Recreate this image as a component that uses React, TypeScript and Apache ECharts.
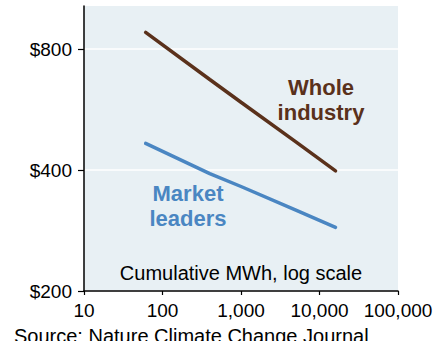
import React, { useEffect, useRef } from "react";
import * as echarts from "echarts";

const xValues = [61, 400, 1000, 5000, 16000];
const wholeIndustry = [880, 672, 590, 470, 398];
const marketLeaders = [466, 392, 364, 318, 288];
const yTicks = [200, 400, 800];
const xTicks = [10, 100, 1000, 10000, 100000];

const FONT = '"Liberation Sans", Arial, sans-serif';
const BROWN = "#5a311b";
const BLUE = "#4a86c2";

export default function App() {
  const ref = useRef<HTMLDivElement>(null);
  useEffect(() => {
    if (!ref.current) return;
    const chart = echarts.init(ref.current, null, { renderer: "svg" });
    const toH = (v: number) => v / 100;
    chart.setOption({
      animation: false,
      backgroundColor: "#ffffff",
      grid: {
        left: 84,
        right: 50,
        top: 6,
        bottom: 50,
        show: true,
        backgroundColor: "#e8f0f4",
        borderWidth: 0,
      },
      xAxis: {
        type: "log",
        logBase: 10,
        min: xTicks[0],
        max: xTicks[xTicks.length - 1],
        axisLine: { show: true, lineStyle: { color: "#000", width: 1.5 } },
        axisTick: { show: true, length: 4, lineStyle: { color: "#000", width: 1.2 } },
        splitLine: { show: false },
        minorTick: { show: false },
        axisLabel: {
          color: "#000",
          fontSize: 19,
          fontFamily: FONT,
          margin: 10,
          formatter: (v: number) => Math.round(v).toLocaleString("en-US"),
        },
      },
      yAxis: {
        type: "log",
        logBase: 2,
        min: toH(yTicks[0]),
        max: 10.24,
        axisLine: { show: true, lineStyle: { color: "#000", width: 1.5 } },
        axisTick: {
          show: true,
          length: 6,
          customValues: yTicks.map(toH),
          lineStyle: { color: "#000", width: 1.2 },
        },
        splitLine: { show: true, lineStyle: { color: "#ffffff", width: 1.5 } },
        axisLabel: {
          color: "#000",
          fontSize: 19,
          fontFamily: FONT,
          margin: 12,
          customValues: yTicks.map(toH),
          formatter: (v: number) => "$" + Math.round(v * 100),
        },
      },
      series: [
        {
          type: "line",
          name: "Whole industry",
          data: xValues.map((x, i) => [x, toH(wholeIndustry[i])]),
          showSymbol: false,
          lineStyle: { color: BROWN, width: 3.5, cap: "round" },
          itemStyle: { color: BROWN },
        },
        {
          type: "line",
          name: "Market leaders",
          data: xValues.map((x, i) => [x, toH(marketLeaders[i])]),
          showSymbol: false,
          lineStyle: { color: BLUE, width: 3.5, cap: "round" },
          itemStyle: { color: BLUE },
        },
      ],
      graphic: [
        {
          type: "text",
          x: 321,
          y: 100,
          style: {
            text: "Whole\nindustry",
            fill: BROWN,
            font: `bold 22px ${FONT}`,
            align: "center",
            verticalAlign: "middle",
            lineHeight: 25,
          },
        },
        {
          type: "text",
          x: 188,
          y: 206,
          style: {
            text: "Market\nleaders",
            fill: BLUE,
            font: `bold 22px ${FONT}`,
            align: "center",
            verticalAlign: "middle",
            lineHeight: 25,
          },
        },
        {
          type: "text",
          x: 241,
          y: 273,
          style: {
            text: "Cumulative MWh, log scale",
            fill: "#000",
            font: `20px ${FONT}`,
            align: "center",
            verticalAlign: "middle",
          },
        },
        {
          type: "text",
          x: 14,
          y: 326,
          style: {
            text: "Source: Nature Climate Change Journal",
            fill: "#000",
            font: `20px ${FONT}`,
            align: "left",
            verticalAlign: "top",
          },
        },
      ],
    });
    return () => chart.dispose();
  }, []);
  return (
    <div
      ref={ref}
      style={{ position: "fixed", left: 0, top: 0, width: 448, height: 341 }}
    />
  );
}
